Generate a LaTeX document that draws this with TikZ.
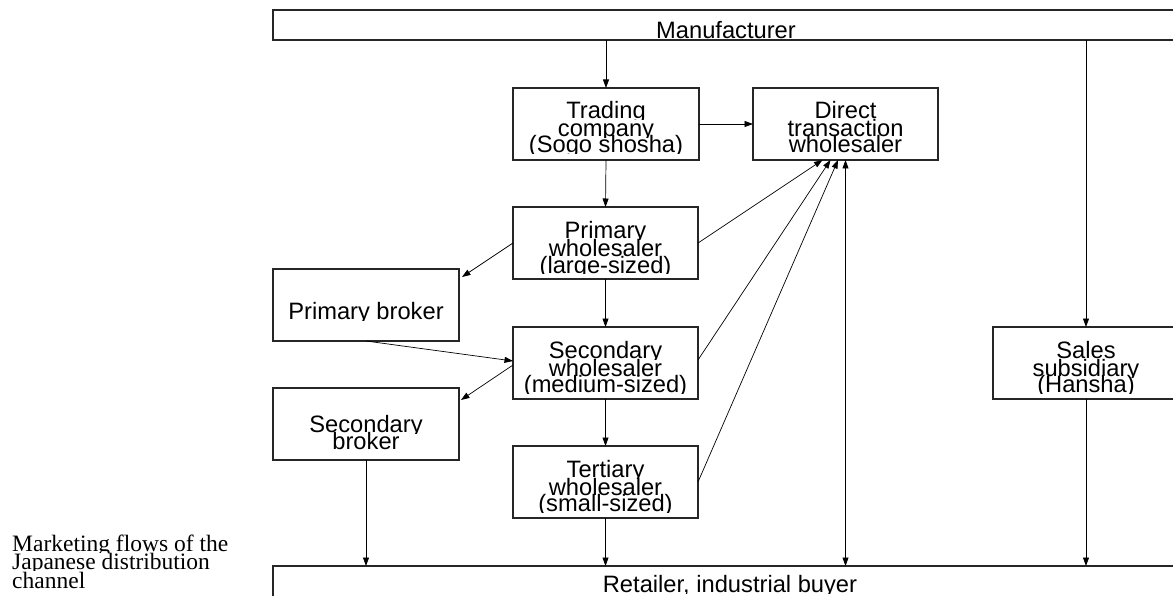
\documentclass[tikz,border=0pt]{standalone}
\usepackage{fontspec}
\setmainfont{Liberation Sans}
\newfontfamily\captionserif{Liberation Serif}
\usetikzlibrary{arrows.meta,calc}

\tikzset{
  box/.style={draw=black!85, line width=1.1pt, inner sep=0pt, outer sep=0pt},
  flow/.style={draw=black, line width=0.7pt, -{Triangle[length=8.5pt,width=6pt]}},
  twoway/.style={draw=black, line width=0.7pt,
    {Triangle[length=8.5pt,width=6pt]}-{Triangle[length=8.5pt,width=6pt]}},
  lbl/.style={inner sep=0pt, font=\fontsize{23.7}{23.7}\selectfont},
  captext/.style={inner sep=0pt, font=\captionserif\fontsize{23.5}{23.5}\selectfont},
}

% one line of text, cut just below its baseline
% #1 style, #2 name, #3 x, #4 baseline y, #5 text
\newcommand\cutlabel[5]{%
  \begin{scope}
    \clip ({#3-300},{#4+1}) rectangle ({#3+300},{#4-40});
    \node[anchor=base,#1] (#2) at (#3,#4) {#5};
  \end{scope}}

\begin{document}
\begin{tikzpicture}[x=1pt,y=-1pt]
\useasboundingbox (0,0) rectangle (1173,596);
\clip (0,0) rectangle (1173,596);

% boxes
\node[box, minimum width=908pt, minimum height=30pt] (manu)    at (727,25)    {};
\node[box, minimum width=186pt, minimum height=72pt] (trading) at (606,124)   {};
\node[box, minimum width=185pt, minimum height=72pt] (direct)  at (845.5,124) {};
\node[box, minimum width=185pt, minimum height=72pt] (primw)   at (605.5,243) {};
\node[box, minimum width=186pt, minimum height=72pt] (pbroker) at (366,305)   {};
\node[box, minimum width=185pt, minimum height=72pt] (secw)    at (605.5,363) {};
\node[box, minimum width=186pt, minimum height=72pt] (sbroker) at (366,424)   {};
\node[box, minimum width=185pt, minimum height=72pt] (tertw)   at (605.5,482) {};
\node[box, minimum width=186pt, minimum height=72pt] (sales)   at (1086,363)  {};
\node[box, minimum width=914pt, minimum height=74pt] (retail)  at (730,603)   {};

% box texts
\cutlabel{lbl}{manuT}{726}{39}{Manufacturer}

\cutlabel{lbl}{tradingA}{606}{119}{Trading}
\cutlabel{lbl}{tradingB}{606}{137}{company}
\cutlabel{lbl}{tradingC}{606}{153}{(Sogo shosha)}

\cutlabel{lbl}{directA}{845.5}{119}{Direct}
\cutlabel{lbl}{directB}{845.5}{137}{transaction}
\cutlabel{lbl}{directC}{845.5}{153}{wholesaler}

\cutlabel{lbl}{primwA}{605.5}{239}{Primary}
\cutlabel{lbl}{primwB}{605.5}{257}{wholesaler}
\cutlabel{lbl}{primwC}{605.5}{273}{(large-sized)}

\cutlabel{lbl}{pbrokerT}{366}{319}{Primary broker}

\cutlabel{lbl}{secwA}{605.5}{358}{Secondary}
\cutlabel{lbl}{secwB}{605.5}{376}{wholesaler}
\cutlabel{lbl}{secwC}{605.5}{392}{(medium-sized)}

\cutlabel{lbl}{sbrokerA}{366}{432}{Secondary}
\cutlabel{lbl}{sbrokerB}{366}{449}{broker}

\cutlabel{lbl}{tertwA}{605.5}{477}{Tertiary}
\cutlabel{lbl}{tertwB}{605.5}{495}{wholesaler}
\cutlabel{lbl}{tertwC}{605.5}{511}{(small-sized)}

\cutlabel{lbl}{salesA}{1086}{358}{Sales}
\cutlabel{lbl}{salesB}{1086}{376}{subsidiary}
\cutlabel{lbl}{salesC}{1086}{392}{(Hansha)}

\cutlabel{lbl}{retailT}{730}{592}{Retailer, industrial buyer}

% caption
\cutlabel{captext,anchor=base west}{capA}{12}{551}{Marketing flows of the}
\cutlabel{captext,anchor=base west}{capB}{12}{569}{Japanese distribution}
\cutlabel{captext,anchor=base west}{capC}{12}{588}{channel}

% flows
\draw[flow] (trading.north |- manu.south) -- (trading.north);
\draw[flow] (sales.north |- manu.south) -- (sales.north);
\draw[flow] (trading.east) -- (direct.west);
\draw[flow] (trading.south) -- (primw.north);
\draw[flow] (primw.south) -- (secw.north);
\draw[flow] (secw.south) -- (tertw.north);

\draw[flow] (primw.east) -- ($(direct.south)+(-23,0)$);
\draw[flow] ($(secw.east)+(0,-3)$) -- ($(direct.south)+(-15,0)$);
\draw[flow] (tertw.east) -- ($(direct.south)+(-7.5,0)$);
\draw[twoway] (direct.south |- retail.north) -- (direct.south);

\draw[flow] (primw.west) -- ($(pbroker.north east)+(3,8)$);
\draw[flow] (pbroker.south) -- ($(secw.west)+(0,-2)$);
\draw[flow] ($(secw.west)+(0,2)$) -- ($(sbroker.north east)+(2,12)$);

\draw[flow] (sbroker.south) -- (sbroker.south |- retail.north);
\draw[flow] (tertw.south) -- (tertw.south |- retail.north);
\draw[flow] (sales.south) -- (sales.south |- retail.north);
\end{tikzpicture}
\end{document}
